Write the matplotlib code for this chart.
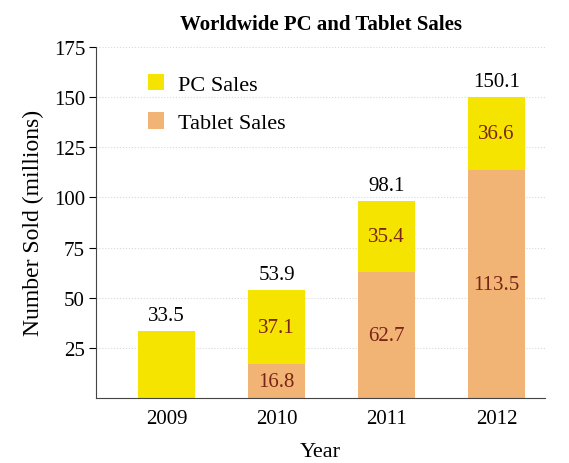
import matplotlib.pyplot as plt
import numpy as np

# data
years = ['2009', '2010', '2011', '2012']
tablet = [0.0, 16.8, 62.7, 113.5]
pc = [33.5, 37.1, 35.4, 36.6]
totals = [33.5, 53.9, 98.1, 150.1]

plt.rcParams['font.family'] = ['Liberation Serif', 'DejaVu Serif']

yellow = '#f4e400'
orange = '#f1b474'
inner = '#7a2418'

fig = plt.figure(figsize=(5.69, 4.64), dpi=100)
ax = fig.add_axes([0.169, 0.140, 0.789, 0.757])

x = np.arange(len(years))
w = 0.52
ax.bar(x, tablet, w, color=orange, label='Tablet Sales')
ax.bar(x, pc, w, bottom=tablet, color=yellow, label='PC Sales')

for i in range(len(years)):
    ax.text(x[i], totals[i] + 3, '%.1f' % totals[i], ha='center', va='bottom', fontsize=15)
    if tablet[i] > 0:
        ax.text(x[i], tablet[i] / 2, '%.1f' % tablet[i], ha='center', va='center',
                fontsize=15, color=inner)
        ax.text(x[i], tablet[i] + pc[i] / 2, '%.1f' % pc[i], ha='center', va='center',
                fontsize=15, color=inner)

ax.set_xlim(-0.64, 3.44)
ax.set_ylim(0, 175)
ax.set_yticks([25, 50, 75, 100, 125, 150, 175])
ax.set_xticks(x)
ax.set_xticklabels(years)
ax.tick_params(axis='both', labelsize=15)
ax.tick_params(axis='x', length=0, pad=8)
ax.tick_params(axis='y', length=5, direction='out', pad=3)
ax.yaxis.grid(True, linestyle=':', color='#d8d8d8', linewidth=0.8)
ax.set_axisbelow(True)
for s in ['top', 'right']:
    ax.spines[s].set_visible(False)
ax.spines['left'].set_color('#444444')
ax.spines['bottom'].set_color('#444444')

ax.set_xlabel('Year', fontsize=16, labelpad=10)
ax.set_ylabel('Number Sold (millions)', fontsize=17, labelpad=7)
ax.set_title('Worldwide PC and Tablet Sales', fontsize=15, fontweight='bold', pad=13)

handles, labels = ax.get_legend_handles_labels()
ax.legend(handles[::-1], labels[::-1], loc='upper left', bbox_to_anchor=(0.07, 0.98),
          frameon=False, fontsize=16, handlelength=0.75, handleheight=0.75,
          handletextpad=0.6, labelspacing=0.8)

fig.savefig('out.png')
